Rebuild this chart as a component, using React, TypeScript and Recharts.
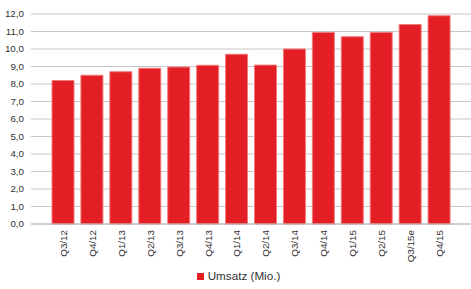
import React from "react";
import { BarChart, Bar, XAxis, YAxis, CartesianGrid, Legend } from "recharts";

const categories = ["Q3/12", "Q4/12", "Q1/13", "Q2/13", "Q3/13", "Q4/13", "Q1/14", "Q2/14", "Q3/14", "Q4/14", "Q1/15", "Q2/15", "Q3/15e", "Q4/15"];
const umsatz = [8.2, 8.5, 8.7, 8.9, 8.97, 9.07, 9.7, 9.08, 10.0, 10.95, 10.7, 10.95, 11.4, 11.9];
const yTicks = [0, 1, 2, 3, 4, 5, 6, 7, 8, 9, 10, 11, 12];

const data = categories.map((c, i) => ({ name: c, umsatz: umsatz[i] }));

const FONT = "'Liberation Sans', Arial, sans-serif";

const XTick = (props: any) => {
  const { x, y, payload } = props;
  return (
    <text
      x={x}
      y={y}
      transform={`rotate(-90, ${x}, ${y})`}
      textAnchor="end"
      dy="0.35em"
      fontSize={9.8}
      fontFamily={FONT}
      fill="#333"
    >
      {payload.value}
    </text>
  );
};

export default function App() {
  return (
    <div style={{ position: "absolute", left: 0, top: 0 }}>
      <BarChart
        width={471}
        height={289}
        data={data}
        margin={{ top: 14, right: 0, bottom: 0, left: 0 }}
      >
        <CartesianGrid vertical={false} stroke="#c8c8c8" />
        <XAxis
          dataKey="name"
          interval={0}
          tick={<XTick />}
          tickLine={false}
          tickSize={0}
          tickMargin={6}
          height={45}
          padding={{ left: 18, right: 17 }}
          axisLine={{ stroke: "#bbbbbb" }}
        />
        <YAxis
          domain={[0, 12]}
          ticks={yTicks}
          interval={0}
          width={31}
          tickLine={false}
          tickSize={0}
          tickMargin={7}
          axisLine={false}
          tickFormatter={(v: number) => v.toFixed(1).replace(".", ",")}
          tick={{ fontSize: 9.8, fontFamily: FONT, fill: "#333" }}
        />
        <Legend
          verticalAlign="bottom"
          height={20}
          iconType="square"
          iconSize={7}
          wrapperStyle={{ fontFamily: FONT, fontSize: 11.7, left: 8 }}
          formatter={(v: string) => <span style={{ color: "#333" }}>{v}</span>}
        />
        <Bar
          dataKey="umsatz"
          name="Umsatz (Mio.)"
          fill="#e31e24"
          stroke="#f27a7a"
          strokeWidth={1}
          barSize={22}
          isAnimationActive={false}
        />
      </BarChart>
    </div>
  );
}
